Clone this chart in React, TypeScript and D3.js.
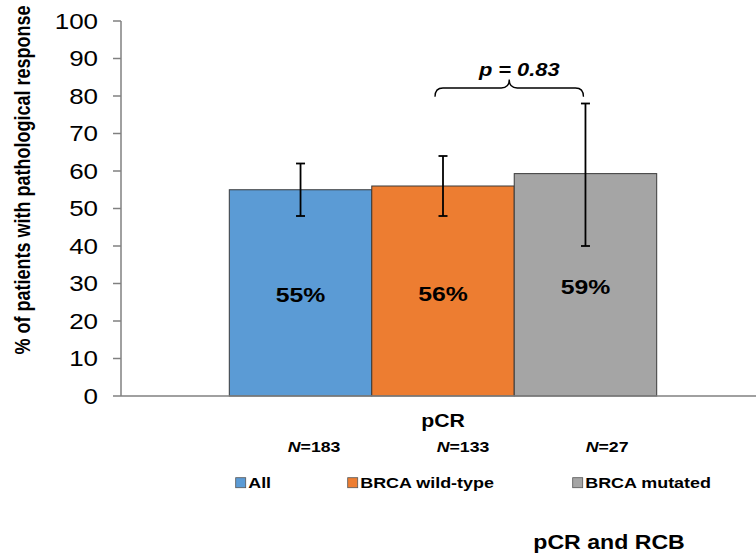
import React from "react";
import * as d3 from "d3";

// Response data
const categories = ["pCR"];
const groups = ["All", "BRCA wild-type", "BRCA mutated"];
const values = [55, 56, 59.3];
const ciLow = [48, 48, 40];
const ciHigh = [62, 64, 78];
const sampleSizes = [183, 133, 27];
const colors = ["#5B9BD5", "#ED7D31", "#A5A5A5"];
const yTicks = [0, 10, 20, 30, 40, 50, 60, 70, 80, 90, 100];
const pValueText = "0.83";
const subtitle = "pCR and RCB";
const yTitle = "% of patients with pathological response";

const W = 756;
const H = 553;
const SX = 1.18; // horizontal text stretch
const FONT = "'Liberation Sans', Arial, Helvetica, sans-serif";

function STxt(props: {
  x: number;
  y: number;
  size: number;
  anchor?: string;
  weight?: string;
  rotate?: number;
  dy?: string;
  children: React.ReactNode;
}) {
  const { x, y, size, anchor = "start", weight = "normal", rotate = 0, dy, children } = props;
  return (
    <g transform={`translate(${x},${y}) scale(${SX},1)${rotate ? ` rotate(${rotate})` : ""}`}>
      <text
        x={0}
        y={0}
        dy={dy}
        fontSize={size}
        fontWeight={weight}
        textAnchor={anchor}
        fontFamily={FONT}
        fill="#000"
      >
        {children}
      </text>
    </g>
  );
}

export default function App() {
  const axisLeft = 121;
  const y = d3.scaleLinear().domain([0, 100]).range([396, 21]);
  const x0 = d3.scaleBand().domain(categories).range([axisLeft, 765]).paddingInner(0).paddingOuter(0);
  const catCenter = (x0("pCR") as number) + x0.bandwidth() / 2;
  const groupWidth = 427.4;
  const x1 = d3
    .scaleBand()
    .domain(groups)
    .range([catCenter - groupWidth / 2, catCenter + groupWidth / 2])
    .padding(0);
  const bw = x1.bandwidth();
  const cx = (g: string) => (x1(g) as number) + bw / 2;

  // bracket between wild-type and mutated
  const bL = cx(groups[1]) - 8;
  const bR = cx(groups[2]) - 2;
  const bM = (bL + bR) / 2;
  const bEnd = 96.7;
  const bMid = 88;
  const bTip = 79.5;
  const r = 8;
  const brace = d3.path();
  brace.moveTo(bL, bEnd);
  brace.quadraticCurveTo(bL, bMid, bL + r, bMid);
  brace.lineTo(bM - r, bMid);
  brace.quadraticCurveTo(bM, bMid, bM, bTip);
  brace.quadraticCurveTo(bM, bMid, bM + r, bMid);
  brace.lineTo(bR - r, bMid);
  brace.quadraticCurveTo(bR, bMid, bR, bEnd);

  const legendX = [235.7, 347.7, 572.7];

  return (
    <svg width={W} height={H} style={{ position: "absolute", left: 0, top: 0, background: "#fff" }}>
      <rect width={W} height={H} fill="#fff" />

      {/* bars */}
      {groups.map((g, i) => (
        <rect
          key={g}
          x={x1(g)}
          y={y(values[i])}
          width={bw}
          height={y(0) - y(values[i])}
          fill={colors[i]}
          stroke="#3a3a3a"
          strokeWidth={1}
        />
      ))}

      {/* error bars */}
      {groups.map((g, i) => {
        const c = cx(g);
        return (
          <g key={g} stroke="#000" strokeWidth={1.8}>
            <line x1={c} x2={c} y1={y(ciLow[i])} y2={y(ciHigh[i])} />
            <line x1={c - 4.5} x2={c + 4.5} y1={y(ciLow[i])} y2={y(ciLow[i])} />
            <line x1={c - 4.5} x2={c + 4.5} y1={y(ciHigh[i])} y2={y(ciHigh[i])} />
          </g>
        );
      })}

      {/* value labels */}
      {groups.map((g, i) => (
        <STxt key={g} x={cx(g)} y={(y(values[i]) + y(0)) / 2 + 9.5} size={21} weight="bold" anchor="middle">
          {`${Math.round(values[i])}%`}
        </STxt>
      ))}

      {/* axes */}
      <line x1={axisLeft} x2={axisLeft} y1={y(100)} y2={y(0)} stroke="#808080" strokeWidth={1.5} />
      <line x1={axisLeft} x2={W} y1={y(0)} y2={y(0)} stroke="#808080" strokeWidth={1.5} />
      {yTicks.map((t) => (
        <g key={t}>
          <line x1={axisLeft - 8} x2={axisLeft} y1={y(t)} y2={y(t)} stroke="#808080" strokeWidth={1.5} />
          <STxt x={98} y={y(t)} size={22} anchor="end" dy="0.36em">
            {t}
          </STxt>
        </g>
      ))}

      <STxt x={29.5} y={180} size={18} weight="bold" anchor="middle" rotate={-90}>
        {yTitle}
      </STxt>

      {/* category label */}
      <STxt x={catCenter} y={426.5} size={18} weight="bold" anchor="middle">
        {categories[0]}
      </STxt>

      {/* sample sizes */}
      {groups.map((g, i) => (
        <STxt key={g} x={(x1(g) as number) + 58.5 + i * 6.5} y={451.5} size={15} weight="bold">
          <tspan fontStyle="italic">N</tspan>
          {`=${sampleSizes[i]}`}
        </STxt>
      ))}

      {/* significance bracket */}
      <path d={brace.toString()} fill="none" stroke="#000" strokeWidth={1.3} />
      <STxt x={bM + 10} y={76} size={18.5} weight="bold" anchor="middle">
        <tspan fontStyle="italic">p</tspan>
        <tspan fontStyle="italic">{` = ${pValueText}`}</tspan>
      </STxt>

      {/* legend */}
      {groups.map((g, i) => (
        <g key={g}>
          <rect x={legendX[i]} y={477.7} width={10} height={10} fill={colors[i]} stroke="#555" strokeWidth={0.8} />
          <STxt x={legendX[i] + 12.5} y={488} size={15.2} weight="bold">
            {g}
          </STxt>
        </g>
      ))}

      <STxt x={533.3} y={549} size={19.6} weight="bold">
        {subtitle}
      </STxt>
    </svg>
  );
}
